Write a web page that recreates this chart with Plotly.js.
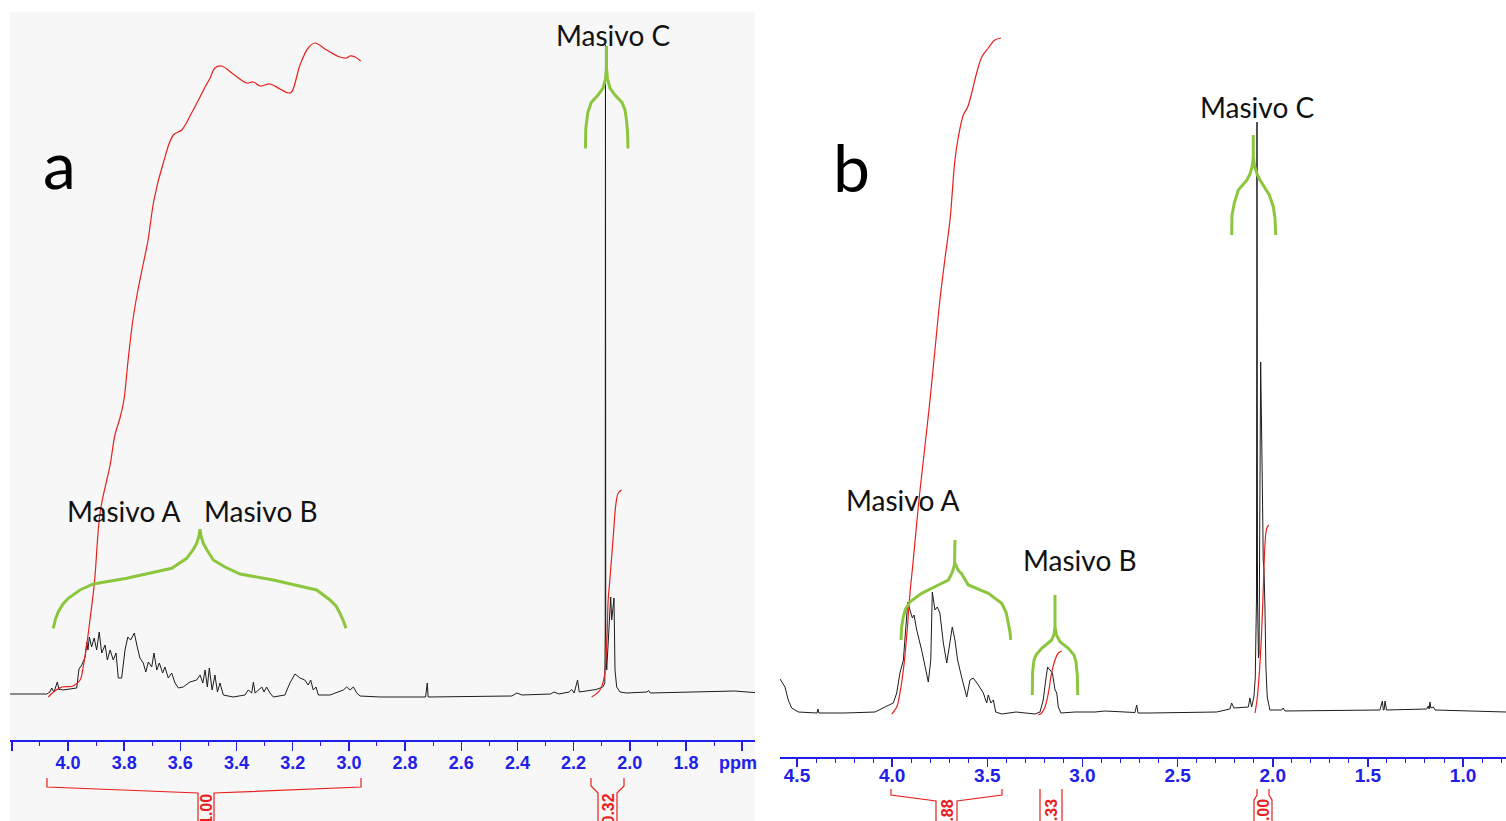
<!DOCTYPE html>
<html><head><meta charset="utf-8">
<script src="https://cdn.plot.ly/plotly-3.0.1.min.js"></script>
<style>html,body{margin:0;padding:0;background:#fff;}#chart{width:1506px;height:821px;}</style>
</head><body><div id="chart"></div>
<script>
// ---------- DATA (ppm, intensity) ----------
const specA = [[4.206,0],[4.076,0],[4.064,2],[4.058,6],[4.050,2],[4.038,12],[4.032,4],[4.028,5],[4.018,4],[3.993,5],[3.969,6],[3.961,25],[3.951,29],[3.939,37],[3.933,52],[3.929,44],[3.924,57],[3.916,47],[3.907,56],[3.898,44],[3.889,62],[3.880,41],[3.868,49],[3.860,34],[3.850,44],[3.839,34],[3.829,41],[3.821,16],[3.809,16],[3.797,44],[3.787,57],[3.777,54],[3.764,61],[3.755,49],[3.744,36],[3.732,31],[3.723,22],[3.714,32],[3.702,27],[3.694,41],[3.684,24],[3.675,31],[3.663,21],[3.655,27],[3.643,16],[3.631,21],[3.619,11],[3.607,6],[3.590,7],[3.566,12],[3.542,14],[3.530,19],[3.520,11],[3.512,24],[3.504,7],[3.497,26],[3.487,4],[3.477,19],[3.468,2],[3.459,11],[3.447,-1],[3.412,-3],[3.370,-1],[3.358,4],[3.346,1],[3.340,12],[3.334,1],[3.310,7],[3.302,2],[3.293,7],[3.281,1],[3.269,-3],[3.228,-1],[3.210,11],[3.192,20],[3.174,16],[3.157,14],[3.145,9],[3.136,14],[3.127,4],[3.117,7],[3.109,-1],[3.067,-1],[3.020,4],[3.008,7],[2.996,4],[2.984,7],[2.972,1],[2.960,-2],[2.889,-3],[2.727,-3],[2.721,11],[2.718,-3],[2.420,-2],[2.402,1],[2.384,-1],[2.282,0],[2.270,2],[2.252,0],[2.216,2],[2.207,4.5],[2.198,1],[2.186,14],[2.180,2],[2.120,4.5],[2.096,7],[2.089,11],[2.0875,60],[2.0866,649],[2.0857,60],[2.0823,24],[2.0766,54],[2.068,97],[2.0645,74],[2.0588,92],[2.0563,96],[2.0527,24],[2.0467,7],[2.0349,2],[2.011,1],[1.939,2],[1.933,3.5],[1.927,1],[1.627,3],[1.536,1]];

const integA1 = [[4.070,-3],[4.052,2],[4.022,7],[3.982,8],[3.957,14],[3.946,27],[3.931,54],[3.922,74],[3.906,111],[3.886,181],[3.862,214],[3.850,229],[3.833,259],[3.815,276],[3.801,294],[3.786,334],[3.769,374],[3.751,404],[3.733,429],[3.715,454],[3.694,494],[3.661,531],[3.625,559],[3.595,564],[3.560,581],[3.530,597],[3.512,607],[3.494,616],[3.477,626],[3.453,628],[3.412,620],[3.364,611],[3.340,612],[3.316,608],[3.281,610],[3.245,605],[3.216,601],[3.204,602],[3.174,629],[3.145,646],[3.121,651],[3.079,644],[3.032,637],[3.008,636],[2.996,638],[2.978,637],[2.958,633]];

const integA2 = [[2.136,-3],[2.106,4],[2.091,17],[2.082,51],[2.077,94],[2.071,114],[2.059,157],[2.049,191],[2.041,201],[2.029,204]];

const specB = [[4.589,34],[4.563,26],[4.546,13],[4.528,5],[4.493,1],[4.395,0],[4.390,4],[4.385,0],[4.248,0],[4.090,1],[4.038,6],[3.994,10],[3.976,20],[3.959,40],[3.941,53],[3.927,86],[3.918,111],[3.906,103],[3.894,95],[3.885,98],[3.871,83],[3.845,63],[3.810,31],[3.797,53],[3.789,121],[3.775,103],[3.763,106],[3.749,100],[3.731,70],[3.713,50],[3.696,73],[3.684,86],[3.670,73],[3.656,53],[3.635,36],[3.608,16],[3.591,33],[3.574,35],[3.547,28],[3.521,20],[3.503,10],[3.495,18],[3.481,10],[3.468,13],[3.456,1],[3.424,-1],[3.349,1],[3.249,-1],[3.223,1],[3.206,13],[3.193,33],[3.183,46],[3.171,43],[3.158,40],[3.144,23],[3.135,20],[3.127,6],[3.113,0],[3.039,1],[2.934,1],[2.882,2],[2.724,0.5],[2.715,8],[2.708,0],[2.645,0],[2.295,1],[2.225,4],[2.216,10],[2.204,5],[2.128,6],[2.120,15],[2.111,6],[2.099,16],[2.092,35],[2.0855,113],[2.0828,591],[2.080,113],[2.075,55],[2.072,60],[2.0635,351],[2.058,236],[2.053,203],[2.050,153],[2.046,143],[2.041,106],[2.036,46],[2.029,16],[2.015,3],[1.953,3],[1.945,5],[1.936,2],[1.437,3],[1.424,12],[1.419,3],[1.415,3],[1.410,12],[1.402,3],[1.191,4],[1.183,7],[1.178,4],[1.174,11],[1.169,5],[1.156,6],[1.147,3],[0.774,1]];

const integB1 = [[4.002,-1],[3.976,6],[3.959,20],[3.941,43],[3.924,76],[3.906,120],[3.889,153],[3.859,213],[3.827,268],[3.801,313],[3.775,363],[3.749,413],[3.722,455],[3.696,493],[3.670,553],[3.652,576],[3.626,598],[3.603,606],[3.582,620],[3.556,640],[3.529,656],[3.495,665],[3.460,673],[3.428,675]];
const integB2 = [[3.232,-2],[3.214,0],[3.197,6],[3.179,20],[3.162,40],[3.144,53],[3.127,60],[3.109,62]];
const integB3 = [[2.093,0],[2.081,16],[2.067,50],[2.058,83],[2.050,123],[2.044,156],[2.036,180],[2.029,186],[2.021,188]];

const tickA_vals = [4.2,4.0,3.8,3.6,3.4,3.2,3.0,2.8,2.6,2.4,2.2,2.0,1.8,1.6];
const tickA_text = ['','4.0','3.8','3.6','3.4','3.2','3.0','2.8','2.6','2.4','2.2','2.0','1.8',''];
const tickB_vals = [4.5,4.0,3.5,3.0,2.5,2.0,1.5,1.0];
const tickB_text = ['4.5','4.0','3.5','3.0','2.5','2.0','1.5','1.0'];
const integralLabelsA = ['1.00','0.32'];
const integralLabelsB = ['4.88','0.33','1.00'];
const massLabels = ['Masivo A','Masivo B','Masivo C'];

// ---------- helpers ----------
const W = 1506, H = 821;
const px = x => x / W;
const py = y => 1 - y / H;
const pathOf = segs => segs.map(seg => 'M' + seg.map(p => px(p[0]).toFixed(5) + ',' + py(p[1]).toFixed(5)).join('L')).join(' ');
const xs = a => a.map(p => p[0]);
const ys = a => a.map(p => p[1]);

const BLUE = '#2020e8';
const RED = '#e8201c';
const GREEN = '#8cc63e';
const SPEC = '#1c1c1c';

const traces = [
  {x: xs(specA), y: ys(specA), xaxis: 'x', yaxis: 'y', mode: 'lines', line: {color: SPEC, width: 1}, hoverinfo: 'skip'},
  {x: xs(integA1), y: ys(integA1), xaxis: 'x', yaxis: 'y', mode: 'lines', line: {color: RED, width: 1.2, shape: 'spline'}, hoverinfo: 'skip'},
  {x: xs(integA2), y: ys(integA2), xaxis: 'x', yaxis: 'y', mode: 'lines', line: {color: RED, width: 1.2, shape: 'spline'}, hoverinfo: 'skip'},
  {x: xs(specB), y: ys(specB), xaxis: 'x2', yaxis: 'y2', mode: 'lines', line: {color: SPEC, width: 1}, hoverinfo: 'skip'},
  {x: xs(integB1), y: ys(integB1), xaxis: 'x2', yaxis: 'y2', mode: 'lines', line: {color: RED, width: 1.2, shape: 'spline'}, hoverinfo: 'skip'},
  {x: xs(integB2), y: ys(integB2), xaxis: 'x2', yaxis: 'y2', mode: 'lines', line: {color: RED, width: 1.2, shape: 'spline'}, hoverinfo: 'skip'},
  {x: xs(integB3), y: ys(integB3), xaxis: 'x2', yaxis: 'y2', mode: 'lines', line: {color: RED, width: 1.2, shape: 'spline'}, hoverinfo: 'skip'}
];

// ---------- decorations ----------
const braces = [
  [[[53.3,628.3],[55.5,619],[58.3,611.7],[63,604],[68.3,598.3],[80,590],[93.3,584],[126.7,578.3],[171.7,568.3],[186.7,558.3],[193,550],[196.7,543.3],[199,536],[200,529.3]],
   [[200,529.3],[201,536],[203.3,543.3],[207,550],[213.3,560],[225,567],[240,574],[273.3,580],[316.7,590],[330,600],[336,606],[340,613.3],[343,620],[346,628.3]]],
  [[[585.4,148.5],[585.8,128],[587.8,112.6],[591.2,102.4],[598,95],[603,88],[605.5,79],[606.5,68],[606.5,46]],
   [[606.5,68],[607.5,79],[610,88],[615,95],[622,102.4],[625,110],[626.5,120],[627.5,132],[628,148.5]]],
  [[[901,640],[901.5,628],[903.3,616.7],[905.5,609],[910,601.7],[921.7,593.3],[938.3,585],[948.3,580],[952,573],[954.5,565],[955,540]],
   [[955,563],[958,570],[961.7,574],[968.3,585],[988.3,593.3],[1001.7,603.3],[1006,612],[1008.3,623.3],[1010,632],[1010.7,640]]],
  [[[1032.3,695],[1032.6,672],[1034,660],[1036,655],[1041.7,648.3],[1051.7,640],[1054,634],[1055,626.7],[1055,595]],
   [[1055,626.7],[1056.5,635],[1060,641.7],[1068.3,648.3],[1074,655],[1076,662],[1077.3,675],[1077.7,695]]],
  [[[1231.7,235],[1232,215],[1234.3,203],[1238.3,190],[1247,180],[1250,174],[1252.3,166],[1253.3,156.7],[1253.3,135]],
   [[1253.3,156.7],[1254.5,166],[1257,174],[1260,180],[1269.3,195],[1273.3,206.7],[1275,218],[1275.7,235]]]
];
const redBrackets = [
  [[[47,778],[47,787],[198,793],[198,835]], [[214,835],[214,793],[361,787],[361,778]]],
  [[[591,778],[591,786],[598,793],[598,835]], [[617,835],[617,793],[624,786],[624,778]]],
  [[[891,789],[891,795],[936,801],[936,835]], [[957,835],[957,801],[1002,795],[1002,789]]],
  [[[1040,789],[1040,835]], [[1062,835],[1062,789]]],
  [[[1257,789],[1257,795],[1254,800],[1254,835]], [[1272,835],[1272,800],[1269,795],[1269,789]]]
];

const shapes = [
  {type: 'rect', xref: 'paper', yref: 'paper', x0: px(10), x1: px(755), y0: 0, y1: py(12), fillcolor: '#f7f7f7', line: {width: 0}, layer: 'below'}
];
braces.forEach(b => shapes.push({type: 'path', xref: 'paper', yref: 'paper', path: pathOf(b), line: {color: GREEN, width: 3}}));
redBrackets.forEach(b => shapes.push({type: 'path', xref: 'paper', yref: 'paper', path: pathOf(b), line: {color: RED, width: 1.2}}));

const labelFont = {family: 'Lato, "Open Sans", sans-serif', size: 28, color: '#111'};
const bigFont = {family: 'Lato, "Open Sans", sans-serif', size: 66, color: '#000'};
const intFont = {family: '"Liberation Sans Narrow", "Liberation Sans", Arial, sans-serif', size: 16, color: RED, weight: 'bold'};
const ann = (t, x, y, font, extra) => Object.assign({text: t, xref: 'paper', yref: 'paper', x: px(x), y: py(y), xanchor: 'center', yanchor: 'middle', showarrow: false, font: font}, extra || {});

const annotations = [
  ann('a', 59, 163, bigFont),
  ann('b', 851, 167, bigFont),
  ann(massLabels[0], 124, 511, labelFont),
  ann(massLabels[1], 261, 511, labelFont),
  ann(massLabels[2], 613, 35, labelFont),
  ann(massLabels[0], 903, 500, labelFont),
  ann(massLabels[1], 1080, 560, labelFont),
  ann(massLabels[2], 1257, 107, labelFont),
  ann('ppm', 738, 763, {family: '"Liberation Sans Narrow", "Liberation Sans", Arial, sans-serif', size: 18, color: BLUE, weight: 'bold'}),
  ann(integralLabelsA[0], 206, 809, intFont, {textangle: -90}),
  ann(integralLabelsA[1], 607.5, 809, intFont, {textangle: -90}),
  ann(integralLabelsB[0], 946.5, 815, intFont, {textangle: -90}),
  ann(integralLabelsB[1], 1051, 815, intFont, {textangle: -90}),
  ann(integralLabelsB[2], 1263, 815, intFont, {textangle: -90})
];

const axisCommon = {
  showgrid: false, zeroline: false, showline: true, linecolor: BLUE, linewidth: 2,
  ticks: 'outside', tickcolor: BLUE, tickwidth: 1.5, tickmode: 'array', fixedrange: true,
  minor: {dtick: 0.1, tick0: 0, ticks: 'outside', ticklen: 4, tickcolor: BLUE, tickwidth: 1, showgrid: false}
};

const layout = {
  width: W, height: H, margin: {l: 0, r: 0, t: 0, b: 0},
  paper_bgcolor: '#ffffff', plot_bgcolor: 'rgba(0,0,0,0)', showlegend: false,
  xaxis: Object.assign({}, axisCommon, {domain: [px(10), px(755)], range: [4.2065, 1.5543], anchor: 'y',
    ticklen: 9, tickvals: tickA_vals, ticktext: tickA_text, ticklabelstandoff: -4,
    tickfont: {family: '"Liberation Sans Narrow", "Liberation Sans", Arial, sans-serif', size: 18, color: BLUE, weight: 'bold'}}),
  yaxis: {domain: [py(740), py(12)], range: [-46, 682], visible: false, fixedrange: true, anchor: 'x'},
  xaxis2: Object.assign({}, axisCommon, {domain: [px(780), 1], range: [4.5893, 0.7743], anchor: 'y2',
    ticklen: 8, tickvals: tickB_vals, ticktext: tickB_text, ticklabelstandoff: -8,
    tickfont: {family: '"Liberation Sans", Arial, sans-serif', size: 19, color: BLUE, weight: 'bold'}}),
  yaxis2: {domain: [py(757), py(8)], range: [-44, 705], visible: false, fixedrange: true, anchor: 'x2'},
  shapes: shapes,
  annotations: annotations
};

Plotly.newPlot('chart', traces, layout, {staticPlot: true, displayModeBar: false});
</script></body></html>
